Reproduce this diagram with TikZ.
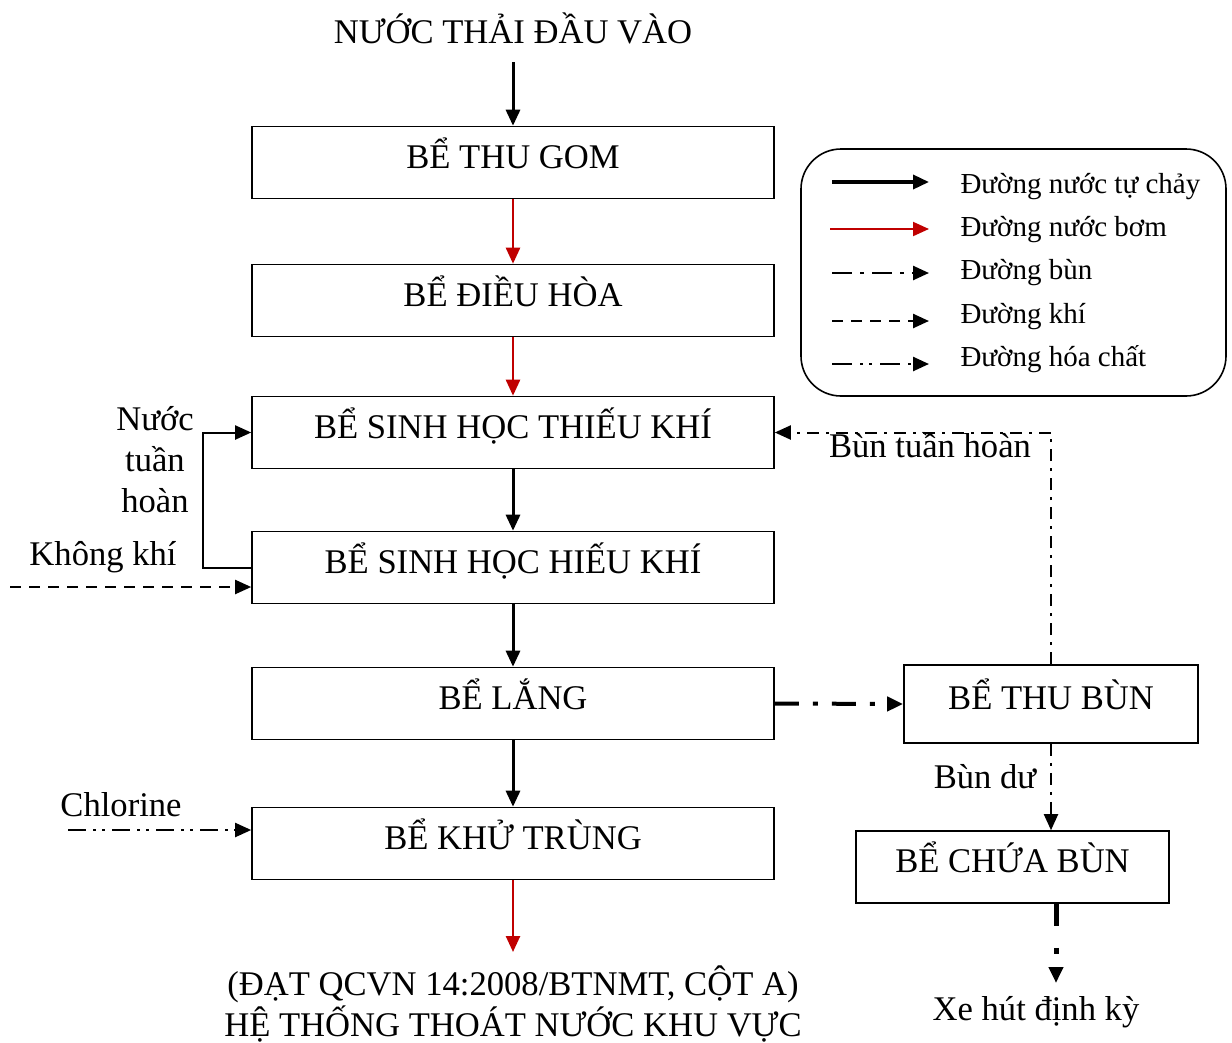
\documentclass[tikz,border=0pt]{standalone}
\usepackage{fontspec}
\setmainfont{Liberation Serif}
\usetikzlibrary{arrows.meta}
\definecolor{pumpred}{HTML}{C00000}
\begin{document}
\begin{tikzpicture}[x=1pt,y=-1pt,
  font=\fontsize{34.6}{41}\selectfont,
  tank/.style={draw,line width=1.6pt,minimum width=522pt,minimum height=72pt,inner sep=0pt,text height=22pt,text depth=11pt},
  sidetank/.style={draw,line width=1.6pt,inner sep=0pt,text height=22pt,text depth=11pt},
  lbl/.style={anchor=base},
  tip/.style={-{Triangle[length=16pt,width=14pt]}},
  gravity/.style={tip,line width=3pt},
  pump/.style={tip,line width=2.5pt,pumpred},
  recirc/.style={tip,line width=2pt},
  airline/.style={tip,line width=2pt,dash pattern=on 11pt off 8pt},
  sludge/.style={tip,line width=2pt,dash pattern=on 12pt off 7pt on 3pt off 7pt},
  sludgethick/.style={tip,line width=4pt,dash pattern=on 24pt off 14pt on 5pt off 14pt},
  chem/.style={tip,line width=2pt,dash pattern=on 18pt off 7pt on 3pt off 6pt on 3pt off 7pt},
  legtext/.style={anchor=base west,font=\fontsize{29}{34}\selectfont}
]
\useasboundingbox (0,0) rectangle (1232,1042);

% main tanks
\node[lbl] (in) at (513,43) {NƯỚC THẢI ĐẦU VÀO};
\node[tank] (tg) at (513,162.5) {BỂ THU GOM};
\node[tank] (dh) at (513,300.5) {BỂ ĐIỀU HÒA};
\node[tank] (tk) at (513,432.5) {BỂ SINH HỌC THIẾU KHÍ};
\node[tank] (hk) at (513,567.5) {BỂ SINH HỌC HIẾU KHÍ};
\node[tank] (lg) at (513,703.5) {BỂ LẮNG};
\node[tank] (kt) at (513,843.5) {BỂ KHỬ TRÙNG};
\node[lbl] (out1) at (513,995) {(ĐẠT QCVN 14:2008/BTNMT, CỘT A)};
\node[lbl] (out2) at (513,1036) {HỆ THỐNG THOÁT NƯỚC KHU VỰC};

% sludge tanks
\node[sidetank,minimum width=294pt,minimum height=78pt] (tb) at (1051,704) {BỂ THU BÙN};
\node[sidetank,minimum width=313pt,minimum height=72pt] (cb) at (1012.5,867) {BỂ CHỨA BÙN};
\node[lbl] (xe) at (1036,1020) {Xe hút định kỳ};

% labels
\node[lbl] (nt1) at (155,430) {Nước};
\node[lbl] (nt2) at (155,471) {tuần};
\node[lbl] (nt3) at (155,512) {hoàn};
\node[lbl] (kk) at (103,565) {Không khí};
\node[lbl] (cl) at (121,816) {Chlorine};
\node[lbl] (btl) at (930,457) {Bùn tuần hoàn};
\node[lbl] (bdl) at (985,788) {Bùn dư};

% main flow
\coordinate (inA) at (513,62);
\draw[gravity] (inA) -- (tg.north);
\draw[pump] (tg.south) -- (dh.north);
\draw[pump] (dh.south) -- (tk.north);
\draw[gravity] (tk.south) -- (hk.north);
\draw[gravity] (hk.south) -- (lg.north);
\draw[gravity] (lg.south) -- (kt.north);
\coordinate (outA) at (513,952);
\draw[pump] (kt.south) -- (outA);

% side flows
\draw[recirc] (hk.west) -- ++(-48,0) |- (tk.west);
\coordinate (airS) at (10,587);
\draw[airline] (airS) -- (airS -| hk.west);
\coordinate (clS) at (68,830);
\draw[chem] (clS) -- (clS -| kt.west);
\draw[sludgethick] (lg.east) -- (tb.west);
\draw[sludge] (tb.north) |- (tk.east);
\draw[sludge] (tb.south) -- (tb.south |- cb.north);
\coordinate (xeA) at (1056,983);
\draw[tip,line width=5pt,dash pattern=on 22pt off 22pt on 6pt off 30pt] (cb.south -| xeA) -- (xeA);

% legend
\node[draw,line width=1.6pt,rounded corners=40pt,minimum width=425pt,minimum height=247pt] (leg) at (1013.5,272.5) {};
\coordinate (l1a) at (832,182); \coordinate (l1b) at (929,182);
\coordinate (l2a) at (830,229); \coordinate (l2b) at (929,229);
\coordinate (l3a) at (832,273); \coordinate (l3b) at (929,273);
\coordinate (l4a) at (832,321); \coordinate (l4b) at (929,321);
\coordinate (l5a) at (832,364); \coordinate (l5b) at (929,364);
\draw[tip,line width=3.5pt] (l1a) -- (l1b);
\draw[tip,line width=2pt,pumpred] (l2a) -- (l2b);
\draw[tip,line width=2.5pt,dash pattern=on 20pt off 8pt on 4pt off 8pt] (l3a) -- (l3b);
\draw[tip,line width=2.5pt,dash pattern=on 11pt off 8pt] (l4a) -- (l4b);
\draw[tip,line width=2.5pt,dash pattern=on 20pt off 8pt on 3pt off 6pt on 3pt off 8pt] (l5a) -- (l5b);
\node[legtext] (t1) at (957,193) {Đường nước tự chảy};
\node[legtext] (t2) at (957,236) {Đường nước bơm};
\node[legtext] (t3) at (957,279) {Đường bùn};
\node[legtext] (t4) at (957,323) {Đường khí};
\node[legtext] (t5) at (957,366) {Đường hóa chất};
\end{tikzpicture}
\end{document}
